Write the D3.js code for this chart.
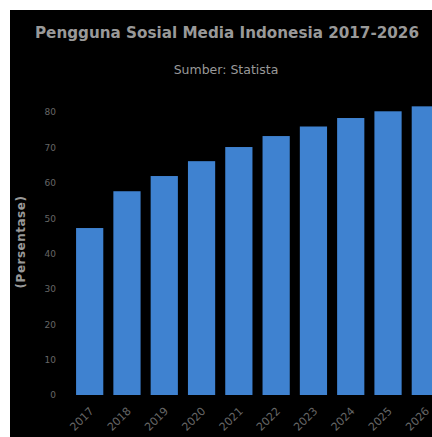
<!DOCTYPE html>
<html>
<head>
<meta charset="utf-8">
<script src="https://cdn.jsdelivr.net/npm/d3@7"></script>
<style>
  body { margin: 0; padding: 0; background: #fff; overflow: hidden; }
  svg { display: block; }
</style>
</head>
<body>
<div id="main"></div>
<script>
const years = ['2017', '2018', '2019', '2020', '2021', '2022', '2023', '2024', '2025', '2026'];
const users = [47.2, 57.6, 61.9, 66.1, 70.1, 73.2, 75.9, 78.3, 80.2, 81.6];
const yTicks = [0, 10, 20, 30, 40, 50, 60, 70, 80];

const WIDTH = 432;
const HEIGHT = 437;
const FONT = '"DejaVu Sans", Verdana, sans-serif';

const svg = d3.select('#main').append('svg').attr('width', WIDTH).attr('height', HEIGHT);

svg.append('rect').attr('x', 10).attr('y', 10).attr('width', WIDTH).attr('height', HEIGHT).attr('fill', '#000');

const scaleX = d3.scaleBand().domain(years).range([66, 449]).paddingInner(0.27).paddingOuter(0.27);
const scaleY = d3.scaleLinear().domain([0, 80]).range([395, 112]);

svg.selectAll('rect.bar').data(years).enter().append('rect')
    .attr('class', 'bar')
    .attr('x', (d) => scaleX(d))
    .attr('y', (d, i) => scaleY(users[i]))
    .attr('width', scaleX.bandwidth())
    .attr('height', (d, i) => scaleY(0) - scaleY(users[i]))
    .attr('fill', '#3f82d0');

const axisY = d3.axisLeft(scaleY).tickValues(yTicks).tickSize(0).tickPadding(0);
const gy = svg.append('g').attr('transform', 'translate(56,0)').call(axisY);
gy.select('.domain').remove();
gy.selectAll('text').attr('fill', '#666').style('font-family', FONT).style('font-size', '9px');

// x labels: one group per year, moved to the band centre, then turned
const xTicks = svg.append('g').attr('class', 'x-axis')
    .selectAll('g').data(years).enter().append('g')
    .attr('transform', (d) => `translate(${scaleX(d) + scaleX.bandwidth() / 2 + 2},409)`);
xTicks.append('g')
    .attr('transform', 'rotate(-45)')
    .append('text')
    .attr('text-anchor', 'end')
    .attr('dy', '0.35em')
    .attr('fill', '#666')
    .style('font-family', FONT)
    .style('font-size', '11px')
    .text((d) => d);

svg.append('text')
    .attr('x', 227).attr('y', 38)
    .attr('text-anchor', 'middle')
    .attr('fill', '#999')
    .style('font-family', FONT)
    .style('font-weight', 'bold')
    .style('font-size', '15.2px')
    .text('Pengguna Sosial Media Indonesia 2017-2026');

svg.append('text')
    .attr('x', 226).attr('y', 74)
    .attr('text-anchor', 'middle')
    .attr('fill', '#999')
    .style('font-family', FONT)
    .style('font-size', '12.5px')
    .text('Sumber: Statista');

svg.append('text')
    .attr('transform', 'translate(25,242) rotate(-90)')
    .attr('text-anchor', 'middle')
    .attr('fill', '#999')
    .style('font-family', FONT)
    .style('font-weight', 'bold')
    .style('font-size', '12px')
    .style('letter-spacing', '0.5px')
    .text('(Persentase)');
</script>
</body>
</html>
